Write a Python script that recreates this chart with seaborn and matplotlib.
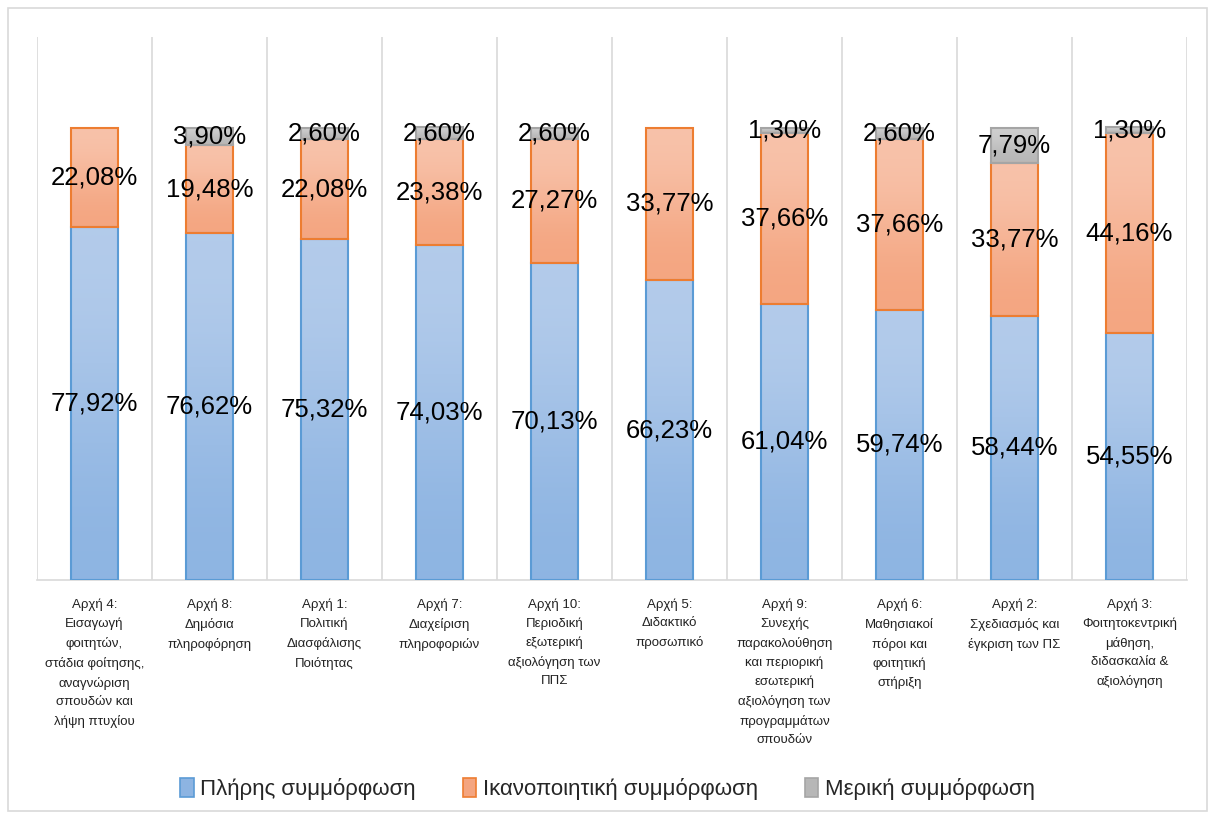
import numpy as np
import matplotlib.pyplot as plt
import seaborn as sns
from matplotlib.patches import Rectangle, Patch

# Data (percent of programmes)
categories = [
    "Αρχή 4:\nΕισαγωγή\nφοιτητών,\nστάδια φοίτησης,\nαναγνώριση\nσπουδών και\nλήψη πτυχίου",
    "Αρχή 8:\nΔημόσια\nπληροφόρηση",
    "Αρχή 1:\nΠολιτική\nΔιασφάλισης\nΠοιότητας",
    "Αρχή 7:\nΔιαχείριση\nπληροφοριών",
    "Αρχή 10:\nΠεριοδική\nεξωτερική\nαξιολόγηση των\nΠΠΣ",
    "Αρχή 5:\nΔιδακτικό\nπροσωπικό",
    "Αρχή 9:\nΣυνεχής\nπαρακολούθηση\nκαι περιορική\nεσωτερική\nαξιολόγηση των\nπρογραμμάτων\nσπουδών",
    "Αρχή 6:\nΜαθησιακοί\nπόροι και\nφοιτητική\nστήριξη",
    "Αρχή 2:\nΣχεδιασμός και\nέγκριση των ΠΣ",
    "Αρχή 3:\nΦοιτητοκεντρική\nμάθηση,\nδιδασκαλία &\nαξιολόγηση",
]
full = [77.92, 76.62, 75.32, 74.03, 70.13, 66.23, 61.04, 59.74, 58.44, 54.55]
satisfactory = [22.08, 19.48, 22.08, 23.38, 27.27, 33.77, 37.66, 37.66, 33.77, 44.16]
partial = [0.0, 3.90, 2.60, 2.60, 2.60, 0.0, 1.30, 2.60, 7.79, 1.30]
series_names = ["Πλήρης συμμόρφωση", "Ικανοποιητική συμμόρφωση", "Μερική συμμόρφωση"]

sns.set_theme(style="white")
plt.rcParams["font.family"] = ["Liberation Sans", "DejaVu Sans"]

fig = plt.figure(figsize=(12.15, 8.19), dpi=100)
ax = fig.add_axes([0.0305, 0.2918, 0.9465, 0.663])

# (edge colour, gradient top, gradient bottom)
styles = [
    ("#5b9bd5", "#b4cceb", "#8db4e2"),
    ("#ed7d31", "#f8c3ab", "#f4a580"),
    ("#a5a5a5", "#cfcfcf", "#b7b7b7"),
]

x = np.arange(len(categories))
full_a = np.array(full)
sat_a = np.array(satisfactory)
part_a = np.array(partial)
bottoms = [np.zeros(len(x)), full_a, full_a + sat_a]
values = [full_a, sat_a, part_a]

for vals, bot, (ec, c_top, c_bot) in zip(values, bottoms, styles):
    n_before = len(ax.patches)
    sns.barplot(x=x, y=vals, bottom=bot, color=c_bot, width=0.41,
                edgecolor=ec, linewidth=1.5, native_scale=True, ax=ax)
    grad = np.array([[0.0], [1.0]])
    cmap = plt.matplotlib.colors.LinearSegmentedColormap.from_list("g", [c_top, c_bot])
    for p in ax.patches[n_before:]:
        if p.get_height() <= 0:
            p.set_visible(False)
            continue
        bx, by, bw, bh = p.get_x(), p.get_y(), p.get_width(), p.get_height()
        im = ax.imshow(grad, cmap=cmap, aspect="auto", interpolation="bicubic",
                       extent=[bx, bx + bw, by, by + bh], origin="upper", zorder=2)
        im.set_clip_path(p)
        p.set_facecolor("none")
        p.set_zorder(3)

# value labels
for vals, bot in zip(values, bottoms):
    for xi, v, b in zip(x, vals, bot):
        if v <= 0:
            continue
        ax.text(xi, b + v / 2, f"{v:.2f}%".replace(".", ","), ha="center",
                va="center", fontsize=18.5, color="black", zorder=5)

ax.set_xlim(-0.5, len(x) - 0.5)
ax.set_ylim(0, 120)
ax.set_yticks([])
ax.set_xticks(x)
ax.set_xticklabels(categories, fontsize=9.5, linespacing=1.7, va="top")
ax.set_xticks(np.arange(-0.5, len(x), 1), minor=True)
ax.tick_params(axis="x", which="both", length=0, pad=13, colors="#222222")
ax.grid(False)
ax.grid(which="minor", axis="x", color="#d9d9d9", linewidth=1.2)
ax.set_xlabel("")
for s in ["top", "left", "right"]:
    ax.spines[s].set_visible(False)
ax.spines["bottom"].set_color("#d9d9d9")
ax.spines["bottom"].set_linewidth(1.2)
ax.spines["bottom"].set_zorder(1)

handles = [Patch(facecolor=st[2], edgecolor=st[0], linewidth=1.2) for st in styles]
fig.legend(handles, series_names, loc="center", bbox_to_anchor=(0.5, 1 - 789 / 819),
           ncol=3, frameon=False, fontsize=16, handlelength=0.6, handleheight=0.9,
           handletextpad=0.3, columnspacing=2.1)

fig.patches.append(Rectangle((8 / 1215, 8 / 819), 1199 / 1215, 803 / 819,
                             transform=fig.transFigure, fill=False,
                             edgecolor="#d9d9d9", linewidth=1.2))

fig.savefig("out.png", dpi=100)
